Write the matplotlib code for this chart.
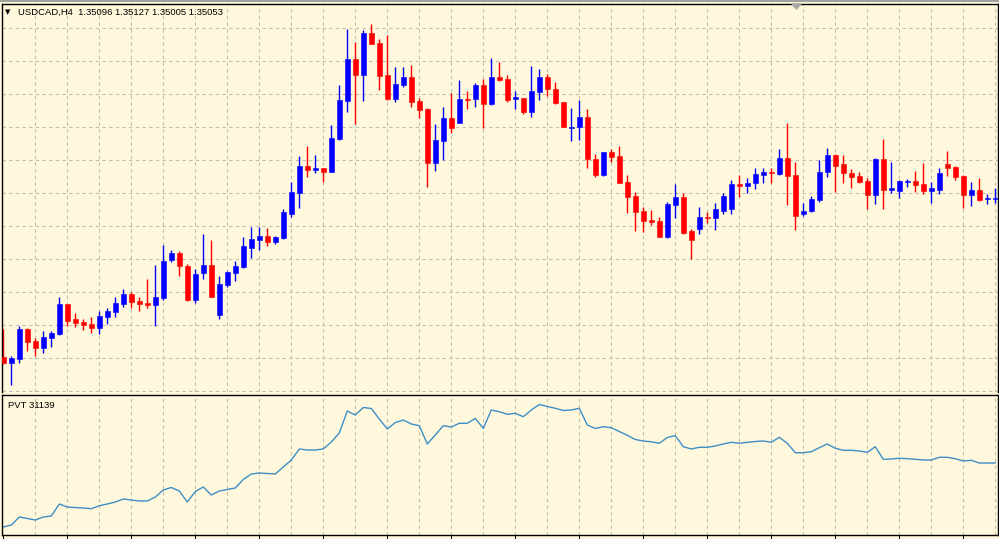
import matplotlib
matplotlib.use("Agg")
import matplotlib.pyplot as plt
import numpy as np

# USDCAD H4, oldest bar first
opens = [1.3346, 1.3340, 1.3344, 1.3374, 1.3362, 1.3355, 1.3365, 1.3369, 1.3399, 1.3384,
         1.3381, 1.3379, 1.3375, 1.3386, 1.3391, 1.3399, 1.3409, 1.3402, 1.3400, 1.3398,
         1.3405, 1.3443, 1.3450, 1.3437, 1.3403, 1.3430, 1.3438, 1.3388, 1.3418, 1.3430,
         1.3436, 1.3455, 1.3463, 1.3467, 1.3461, 1.3465, 1.3489, 1.3510, 1.3537, 1.3533,
         1.3535, 1.3531, 1.3564, 1.3602, 1.3644, 1.3628, 1.3670, 1.3660, 1.3628, 1.3604,
         1.3618, 1.3626, 1.3602, 1.3594, 1.3540, 1.3562, 1.3585, 1.3580, 1.3604, 1.3604,
         1.3618, 1.3599, 1.3626, 1.3624, 1.3604, 1.3605, 1.3591, 1.3611, 1.3626, 1.3614,
         1.3601, 1.3575, 1.3576, 1.3586, 1.3544, 1.3528, 1.3551, 1.3547, 1.3521, 1.3507,
         1.3492, 1.3483, 1.3482, 1.3466, 1.3498, 1.3506, 1.3472, 1.3474, 1.3486, 1.3485,
         1.3492, 1.3494, 1.3519, 1.3517, 1.3520, 1.3528, 1.3531, 1.3529, 1.3545, 1.3528,
         1.3489, 1.3492, 1.3503, 1.3531, 1.3548, 1.3539, 1.3530, 1.3527, 1.3522, 1.3508,
         1.3544, 1.3513, 1.3512, 1.3521, 1.3522, 1.3519, 1.3512, 1.3513, 1.3539, 1.3536,
         1.3527, 1.3508, 1.3513, 1.3504, 1.3504]
highs = [1.3374, 1.3347, 1.3377, 1.3375, 1.3365, 1.3372, 1.3372, 1.3406, 1.3399, 1.3390,
         1.3384, 1.3386, 1.3392, 1.3395, 1.3406, 1.3414, 1.3411, 1.3406, 1.3424, 1.3438,
         1.3458, 1.3453, 1.3452, 1.3439, 1.3434, 1.3469, 1.3463, 1.3427, 1.3432, 1.3442,
         1.3466, 1.3476, 1.3476, 1.3475, 1.3467, 1.3494, 1.3521, 1.3547, 1.3557, 1.3548,
         1.3535, 1.3578, 1.3618, 1.3674, 1.3661, 1.3673, 1.3679, 1.3664, 1.3668, 1.3636,
         1.3636, 1.3638, 1.3605, 1.3595, 1.3579, 1.3596, 1.3610, 1.3623, 1.3612, 1.3620,
         1.3624, 1.3645, 1.3641, 1.3628, 1.3612, 1.3605, 1.3637, 1.3634, 1.3629, 1.3621,
         1.3601, 1.3595, 1.3603, 1.3594, 1.3549, 1.3551, 1.3554, 1.3557, 1.3528, 1.3511,
         1.3496, 1.3493, 1.3486, 1.3501, 1.3519, 1.3510, 1.3474, 1.3496, 1.3491, 1.3500,
         1.3510, 1.3523, 1.3528, 1.3525, 1.3535, 1.3535, 1.3535, 1.3554, 1.3580, 1.3541,
         1.3500, 1.3507, 1.3543, 1.3555, 1.3549, 1.3548, 1.3534, 1.3531, 1.3525, 1.3545,
         1.3564, 1.3541, 1.3523, 1.3524, 1.3532, 1.3540, 1.3521, 1.3535, 1.3552, 1.3537,
         1.3528, 1.3521, 1.3525, 1.3509, 1.3515]
lows = [1.3339, 1.3318, 1.3340, 1.3352, 1.3347, 1.3350, 1.3356, 1.3368, 1.3377, 1.3376,
        1.3373, 1.3370, 1.3369, 1.3379, 1.3386, 1.3396, 1.3395, 1.3392, 1.3395, 1.3377,
        1.3403, 1.3441, 1.3427, 1.3402, 1.3400, 1.3424, 1.3406, 1.3384, 1.3416, 1.3422,
        1.3435, 1.3445, 1.3453, 1.3457, 1.3459, 1.3464, 1.3486, 1.3495, 1.3526, 1.3530,
        1.3521, 1.3531, 1.3563, 1.3591, 1.3579, 1.3602, 1.3659, 1.3613, 1.3603, 1.3601,
        1.3616, 1.3596, 1.3585, 1.3516, 1.3532, 1.3543, 1.3570, 1.3580, 1.3594, 1.3596,
        1.3575, 1.3598, 1.3622, 1.3601, 1.3594, 1.3589, 1.3586, 1.3603, 1.3607, 1.3599,
        1.3576, 1.3562, 1.3563, 1.3535, 1.3526, 1.3527, 1.3541, 1.3520, 1.3490, 1.3472,
        1.3471, 1.3478, 1.3466, 1.3465, 1.3485, 1.3469, 1.3444, 1.3469, 1.3480, 1.3473,
        1.3489, 1.3489, 1.3506, 1.3510, 1.3514, 1.3520, 1.3520, 1.3528, 1.3498, 1.3473,
        1.3487, 1.3491, 1.3501, 1.3526, 1.3511, 1.3520, 1.3515, 1.3520, 1.3494, 1.3499,
        1.3494, 1.3510, 1.3505, 1.3516, 1.3511, 1.3509, 1.3500, 1.3509, 1.3527, 1.3523,
        1.3495, 1.3497, 1.3502, 1.3499, 1.3500]
closes = [1.3340, 1.3345, 1.3374, 1.3361, 1.3355, 1.3366, 1.3370, 1.3399, 1.3382, 1.3380,
          1.3378, 1.3375, 1.3387, 1.3392, 1.3400, 1.3409, 1.3401, 1.3399, 1.3398, 1.3406,
          1.3442, 1.3450, 1.3437, 1.3403, 1.3429, 1.3438, 1.3406, 1.3419, 1.3431, 1.3437,
          1.3457, 1.3464, 1.3467, 1.3461, 1.3466, 1.3491, 1.3511, 1.3537, 1.3533, 1.3535,
          1.3531, 1.3565, 1.3603, 1.3644, 1.3628, 1.3670, 1.3659, 1.3627, 1.3604, 1.3619,
          1.3626, 1.3601, 1.3593, 1.3540, 1.3563, 1.3585, 1.3575, 1.3604, 1.3603, 1.3618,
          1.3599, 1.3626, 1.3623, 1.3603, 1.3606, 1.3591, 1.3612, 1.3626, 1.3614, 1.3600,
          1.3576, 1.3576, 1.3586, 1.3544, 1.3528, 1.3551, 1.3546, 1.3520, 1.3506, 1.3491,
          1.3482, 1.3481, 1.3466, 1.3499, 1.3506, 1.3470, 1.3463, 1.3486, 1.3485, 1.3494,
          1.3507, 1.3519, 1.3517, 1.3520, 1.3529, 1.3531, 1.3530, 1.3545, 1.3527, 1.3487,
          1.3492, 1.3504, 1.3531, 1.3548, 1.3537, 1.3530, 1.3526, 1.3521, 1.3508, 1.3544,
          1.3513, 1.3515, 1.3522, 1.3522, 1.3518, 1.3512, 1.3515, 1.3530, 1.3535, 1.3526,
          1.3508, 1.3513, 1.3503, 1.3505, 1.3505]

# Price-volume trend for the same bars
pvt = [-861, 139, 4139, 3389, 2639, 4139, 4639, 10639, 9139, 8889,
       8639, 8289, 9789, 10639, 11639, 13139, 12639, 12139, 12139, 14139,
       17639, 18889, 17139, 11639, 16889, 19139, 15139, 17139, 17889, 18639,
       22889, 25639, 26139, 25889, 25639, 29139, 32639, 38139, 37639, 37639,
       38139, 41639, 46139, 57139, 55139, 58889, 58389, 53139, 48139, 51389,
       52639, 50639, 49789, 40639, 45139, 49789, 49139, 50989, 50989, 53389,
       48489, 57639, 56789, 55489, 55989, 54289, 57639, 60389, 59389, 58489,
       57389, 57639, 58489, 50139, 48389, 49289, 48789, 46889, 44989, 42889,
       42139, 41739, 40989, 43889, 44789, 39289, 38139, 38989, 38989, 39639,
       40639, 41489, 40989, 41489, 41889, 42139, 41489, 43989, 40989, 36289,
       36289, 36789, 38789, 40639, 38489, 37489, 37489, 37139, 36489, 39289,
       32989, 33139, 33489, 33289, 32989, 32639, 32639, 33989, 33989, 33289,
       32139, 32489, 31139, 31139, 31139]

header = "USDCAD,H4  1.35096 1.35127 1.35005 1.35053"
pvt_label = "PVT 31139"

BG = "#fff8dc"
BULL = "#0000ff"
BEAR = "#ff0000"
GRID = "#c2bdb0"
PVT_COLOR = "#3d8fc6"

W, H = 999, 539
fig = plt.figure(figsize=(W / 100, H / 100), dpi=100)
fig.patch.set_facecolor(BG)


def px_axes(x0, y0, x1, y1):
    # axes placed by pixel box (top-left origin)
    return fig.add_axes([x0 / W, 1 - y1 / H, (x1 - x0) / W, (y1 - y0) / H])


ax = px_axes(2.3, 4, 997.5, 392)
sub = px_axes(2.3, 395, 997.5, 535)

n = len(opens)
x = np.arange(n)
o = np.array(opens)
h = np.array(highs)
l = np.array(lows)
c = np.array(closes)
up = c >= o
colors = np.where(up, BULL, BEAR)

for a in (ax, sub):
    a.set_facecolor(BG)
    a.set_xlim(-0.125, 124.275)
    for k in range(4, n, 4):
        a.axvline(k, color=GRID, lw=0.8, ls=(0, (3, 3)), zorder=0)
    a.tick_params(labelbottom=False, labelleft=False, left=False,
                  right=True, direction="out", length=3, width=0.8)
    for s in a.spines.values():
        s.set_color("black")
        s.set_linewidth(1.0)

# main candles
ax.set_ylim(1.3311, 1.3699)
gridlevels = np.arange(1.36747, 1.3300, -0.0033)
for g in gridlevels:
    ax.axhline(g, color=GRID, lw=0.8, ls=(0, (3, 3)), zorder=0)
ax.set_yticks(gridlevels)
ax.set_xticks([])
ax.spines["bottom"].set_visible(False)

ax.vlines(x, l, h, colors=colors, lw=1.0, zorder=2)
body_lo = np.minimum(o, c)
body_h = np.maximum(np.abs(c - o), 0.00008)
ax.bar(x, body_h, bottom=body_lo, width=0.64, color=colors,
       edgecolor=colors, linewidth=0.4, zorder=3)

# PVT window
sub.set_ylim(-4861, 65139)
sub.set_yticks([])
sub.set_xticks(np.arange(0, n, 8))
sub.tick_params(axis="x", bottom=True, length=4, width=0.8)
sub.plot(x, pvt, color=PVT_COLOR, lw=1.0, zorder=2)

# captions
fig.text(8 / W, 1 - 12 / H, "\u25bc", fontsize=5, family="DejaVu Sans",
         ha="center", va="center", color="black")
fig.text(18.5 / W, 1 - 12 / H, header, fontsize=6.8, family="Liberation Sans",
         ha="left", va="center", color="black")
fig.text(8 / W, 1 - 405.5 / H, pvt_label, fontsize=6.8, family="Liberation Sans",
         ha="left", va="center", color="black")

# window frame line on top and the shift marker
fig.add_artist(plt.Line2D([0, 1], [1 - 1 / H, 1 - 1 / H], transform=fig.transFigure,
                          color="#a0a0a0", lw=1.5))
fig.add_artist(plt.Polygon([[792 / W, 1 - 4 / H], [801 / W, 1 - 4 / H], [796.5 / W, 1 - 9 / H]],
                           closed=True, transform=fig.transFigure, color="#a8a8a8"))

fig.savefig("out.png", dpi=100, facecolor=BG)
